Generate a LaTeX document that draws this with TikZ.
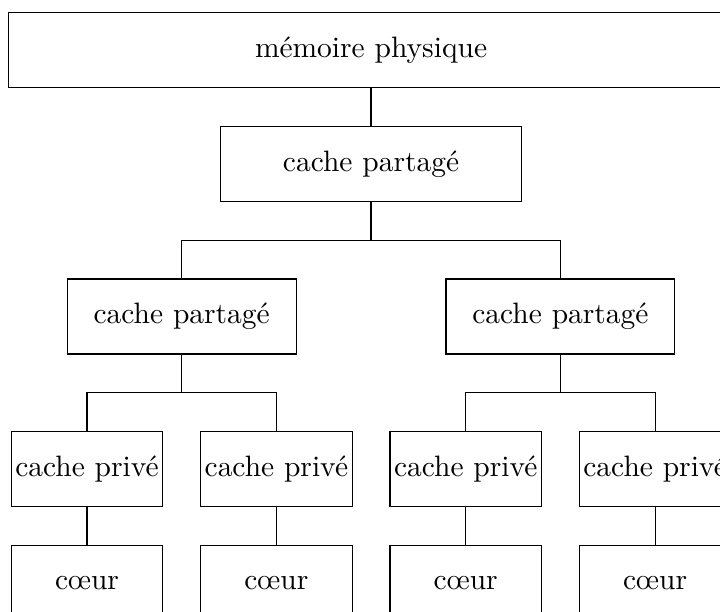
\documentclass[tikz,border=0pt]{standalone}
\usepackage{fontspec}
\usepackage{tikz}
\usetikzlibrary{positioning}

\begin{document}
\begin{tikzpicture}[
    auto,
    block/.style={rectangle, draw, inner sep=1pt, text centered, minimum height=25.4pt},
    small/.style={block, minimum width=51.4pt},
    line/.style={draw}
]
\useasboundingbox (-125.8pt,16.9pt) rectangle (118.3pt,-190.55pt);

% Place the nodes
\node [block, minimum width=246pt] (mem) {mémoire physique};
\node [block, minimum width=102pt, below=13pt of mem] (shared) {cache partagé};
\node [block, minimum width=77.6pt, below=25.8pt of shared, xshift=-64.2pt] (sharedL) {cache partagé};
\node [block, minimum width=77.6pt, below=25.8pt of shared, xshift=64.2pt] (sharedR) {cache partagé};
\node [small, below=25.8pt of sharedL, xshift=-32.1pt] (privA) {cache privé};
\node [small, below=25.8pt of sharedL, xshift=32.1pt] (privB) {cache privé};
\node [small, below=25.8pt of sharedR, xshift=-32.1pt] (privC) {cache privé};
\node [small, below=25.8pt of sharedR, xshift=32.1pt] (privD) {cache privé};
\node [small, below=13pt of privA] (coreA) {cœur};
\node [small, below=13pt of privB] (coreB) {cœur};
\node [small, below=13pt of privC] (coreC) {cœur};
\node [small, below=13pt of privD] (coreD) {cœur};

% Draw the lines
\path [line] (mem) -- (shared);
\path [line] (shared.south) -- ++(0,-12.9pt) -| (sharedL.north);
\path [line] (shared.south) -- ++(0,-12.9pt) -| (sharedR.north);
\path [line] (sharedL.south) -- ++(0,-12.9pt) -| (privA.north);
\path [line] (sharedL.south) -- ++(0,-12.9pt) -| (privB.north);
\path [line] (sharedR.south) -- ++(0,-12.9pt) -| (privC.north);
\path [line] (sharedR.south) -- ++(0,-12.9pt) -| (privD.north);
\path [line] (privA) -- (coreA);
\path [line] (privB) -- (coreB);
\path [line] (privC) -- (coreC);
\path [line] (privD) -- (coreD);

\end{tikzpicture}
\end{document}
